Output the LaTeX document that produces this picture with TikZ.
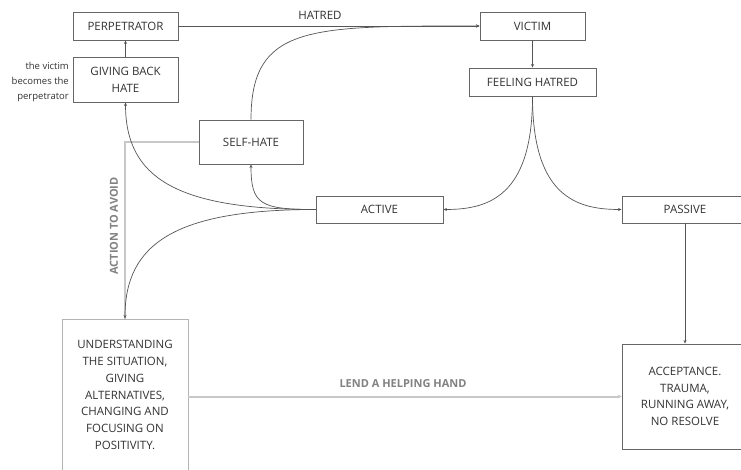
\documentclass[tikz,border=0pt]{standalone}
\usepackage{fontspec}
\setmainfont{Open Sans}
\usetikzlibrary{arrows.meta}
\definecolor{txt}{HTML}{333333}
\definecolor{bord}{HTML}{666666}
\definecolor{lin}{HTML}{555555}
\definecolor{light}{HTML}{C8C8C8}
\begin{document}
\begin{tikzpicture}[x=1pt,y=-1pt,
  box/.style={draw=bord,line width=0.9pt,rectangle,inner sep=0pt,text=txt,font=\fontsize{11.5}{16.7}\selectfont,align=center},
  conn/.style={draw=lin,line width=0.7pt,-{Stealth[length=3.5pt,width=3pt]}},
  soft/.style={draw=light,line width=2pt},
  softlab/.style={text=light!65!black,font=\bfseries\fontsize{11}{13}\selectfont},
  lab/.style={text=txt,font=\fontsize{11.5}{13}\selectfont}]
\useasboundingbox[fill=white] (0,0) rectangle (741,470);
% nodes
\node[box,minimum width=105pt,minimum height=28pt] (perp) at (125.5,26) {PERPETRATOR};
\node[box,minimum width=105pt,minimum height=45pt] (give) at (125.5,79.5) {GIVING BACK\\HATE};
\node[box,minimum width=104pt,minimum height=44pt] (self) at (251,142) {SELF-HATE};
\node[box,minimum width=127pt,minimum height=27pt] (active) at (379.5,209.5) {ACTIVE};
\node[box,minimum width=105pt,minimum height=28pt] (victim) at (532.5,26) {VICTIM};
\node[box,minimum width=127pt,minimum height=28pt] (feel) at (532.5,82) {FEELING HATRED};
\node[box,minimum width=126pt,minimum height=27pt] (passive) at (685,209.5) {PASSIVE};
\node[box,minimum width=126pt,minimum height=105pt] (accept) at (685,396.5) {ACCEPTANCE.\\TRAUMA,\\RUNNING AWAY,\\NO RESOLVE};
\node[box,draw=light!80!bord,minimum width=126pt,minimum height=162pt] (under) at (125,400) {};
\node[box,draw=none] (undertext) at (125,395) {UNDERSTANDING\\THE SITUATION,\\GIVING\\ALTERNATIVES,\\CHANGING AND\\FOCUSING ON\\POSITIVITY.};
\node[text=txt,font=\fontsize{9.5}{15}\selectfont,align=right,anchor=east,inner sep=0pt] (side) at (69,82) {the victim\\becomes the\\perpetrator};
% soft connectors
\draw[soft] (self.west) -| (under.north);
\node[rotate=90,softlab] (avoid) at (114,226) {ACTION TO AVOID};
\draw[soft,-{Stealth[length=4pt,width=4pt]}] (accept.west -| under.east) -- (accept.west);
\node[softlab] (lend) at (403,384) {LEND A HELPING HAND};
% connectors
\draw[conn] (perp.east) -- node[lab,above=3pt,pos=0.47] (hatred) {HATRED} (victim.west);
\draw[conn] (give.north) -- (perp.south);
\draw[conn] (victim.south) -- (feel.north);
\draw[conn] (feel.south) .. controls +(0,100) and +(45,0) .. (active.east);
\draw[conn] (feel.south) .. controls +(0,100) and +(-45,0) .. (passive.west);
\draw[conn] (passive.south) -- (accept.north);
\draw[conn] (active.west) .. controls +(-55,0) and +(0,40) .. (self.south);
\draw[conn] (active.west) .. controls +(-140,0) and +(0,75) .. (give.south);
\draw[conn] (active.west) .. controls +(-140,0) and +(0,-75) .. (under.north);
\draw[conn] (self.north) .. controls +(0,-95) and +(-170,0) .. (victim.west);
\end{tikzpicture}
\end{document}
